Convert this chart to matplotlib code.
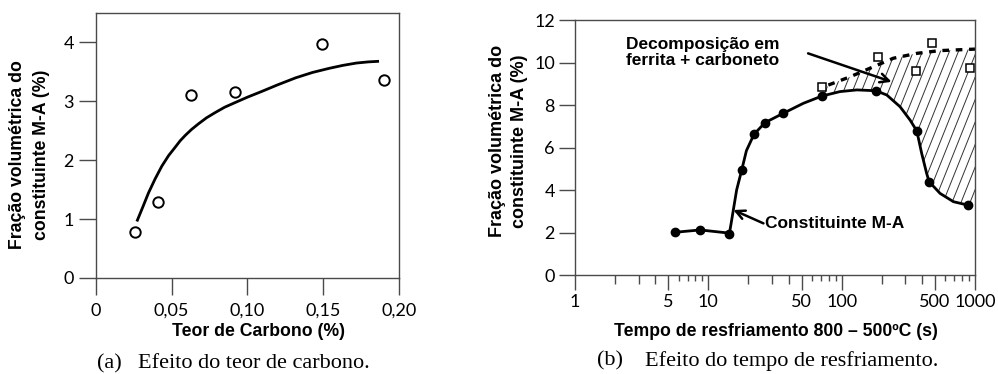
import numpy as np
import matplotlib
matplotlib.use('Agg')
import matplotlib.pyplot as plt
from matplotlib.patches import Polygon

# (a) efeito do teor de carbono
carbono = [0.026, 0.041, 0.063, 0.092, 0.149, 0.190]
frac_c = [0.78, 1.29, 3.11, 3.16, 3.97, 3.37]
# curva ajustada
curva_c_x = [0.027, 0.031, 0.0346, 0.039, 0.0435, 0.048, 0.0523, 0.0556, 0.0589, 0.063,
             0.0678, 0.073, 0.0788, 0.085, 0.092, 0.1, 0.1097, 0.12, 0.132, 0.143,
             0.154, 0.163, 0.172, 0.18, 0.187]
curva_c_y = [0.96, 1.21, 1.44, 1.68, 1.90, 2.08, 2.22, 2.33, 2.42, 2.52,
             2.62, 2.72, 2.81, 2.90, 2.98, 3.07, 3.17, 3.28, 3.40, 3.49,
             3.56, 3.61, 3.65, 3.67, 3.68]
ticks_c = [0, 0.05, 0.10, 0.15, 0.20]
ticklab_c = ['0', '0,05', '0,10', '0,15', '0,20']

# (b) efeito do tempo de resfriamento
tempo = [5.6, 8.7, 14.4, 17.8, 22.0, 26.6, 36.5, 71, 181, 366, 453, 883]
frac_ma = [2.01, 2.12, 1.93, 4.94, 6.62, 7.17, 7.61, 8.42, 8.67, 6.78, 4.39, 3.29]
tempo_q = [71.6, 187, 361, 474, 919]
frac_q = [8.86, 10.24, 9.6, 10.9, 9.76]
curva_t = [5.6, 8.7, 14.4, 14.8, 15.4, 16.3, 17.8, 19.3, 22.0, 26.6, 36.5, 51.6,
           71, 97, 130, 181, 218, 274, 326, 366, 398, 434, 453, 547, 689, 883]
curva_ma = [2.01, 2.12, 1.97, 2.4, 3.06, 4.0, 4.94, 5.85, 6.62, 7.17, 7.61, 8.08,
            8.42, 8.63, 8.71, 8.67, 8.47, 7.92, 7.29, 6.78, 5.73, 4.78, 4.39, 3.84, 3.45, 3.29]
decomp_t = [79.5, 116, 173, 244, 366, 547, 1000]
decomp_y = [8.94, 9.33, 9.8, 10.2, 10.43, 10.56, 10.63]
xt_major = [1, 5, 10, 50, 100, 500, 1000]
xt_mid = [2, 3, 4, 20, 30, 40, 200, 300, 400]
xt_small = [6, 7, 8, 9, 60, 70, 80, 90, 600, 700, 800, 900]

W, H = 998, 374
spine_c = '#4a4a4a'
tickfont = 'Lato'
boldfont = 'Liberation Sans'
serif = 'Liberation Serif'

fig = plt.figure(figsize=(W / 100, H / 100), dpi=100)


def fx(px):
    return px / W


def fy(py):
    return 1 - py / H


def style(ax):
    for s in ax.spines.values():
        s.set_color(spine_c)
        s.set_linewidth(1.0)
    for lab in ax.get_xticklabels() + ax.get_yticklabels():
        lab.set_fontfamily(tickfont)
        lab.set_fontsize(13)


# ---------------- (a)
ax1 = fig.add_axes([fx(96), fy(278), fx(302.7), 265 / H])
ax1.plot(curva_c_x, curva_c_y, color='black', lw=2.0, solid_capstyle='butt',
         solid_joinstyle='round')
ax1.plot(carbono, frac_c, 'o', ms=7.5, mfc='white', mec='black', mew=1.4)
ax1.set_xlim(0, 0.2)
ax1.set_ylim(0, 4.5)
ax1.set_xticks(ticks_c, ticklab_c)
ax1.set_yticks(range(5))
ax1.tick_params(axis='x', direction='out', length=12, width=1.0, color=spine_c, pad=6)
ax1.tick_params(axis='y', direction='out', length=12, width=1.0, color=spine_c, pad=4)
style(ax1)

fig.text(fx(18), fy(155), 'Fração volumétrica do', rotation=90, ha='center', va='center',
         family=boldfont, weight='bold', fontsize=12.7)
fig.text(fx(42), fy(155), 'constituinte M-A (%)', rotation=90, ha='center', va='center',
         family=boldfont, weight='bold', fontsize=12.7)
fig.text(fx(258), fy(331), 'Teor de Carbono (%)', ha='center', va='center',
         family=boldfont, weight='bold', fontsize=12.7)
fig.text(fx(97), fy(364), '(a)', ha='left', va='center', family=serif, fontsize=16)
fig.text(fx(138), fy(364), 'Efeito do teor de carbono.', ha='left', va='center',
         family=serif, fontsize=16)

# ---------------- (b)
ax2 = fig.add_axes([fx(575), fy(275), fx(400), 255 / H])
ax2.set_xscale('log')
ax2.set_xlim(1, 1000)
ax2.set_ylim(0, 12)

# região hachurada entre as duas curvas
low = [(t, y) for t, y in zip(curva_t, curva_ma) if t >= 71]
verts = list(zip(decomp_t, decomp_y)) + [(decomp_t[-1], low[-1][1])] + low[::-1]
poly = Polygon(np.array(verts), closed=True, facecolor='none', edgecolor='none',
               transform=ax2.transData)
ax2.add_patch(poly)
dx = 255 / 2.5 / 400
for x0 in np.arange(-0.3, 1.0, 9 / 400):
    ln, = ax2.plot([x0, x0 + dx], [0, 1], transform=ax2.transAxes,
                   color='#333333', lw=0.7)
    ln.set_clip_path(poly)

ax2.plot(decomp_t, decomp_y, color='black', lw=2.4, dashes=(2.0, 2.0))
ax2.plot(curva_t, curva_ma, color='black', lw=2.0, solid_joinstyle='round')
ax2.plot(tempo, frac_ma, 'o', ms=6, color='black')
ax2.plot(tempo_q, frac_q, 's', ms=6, mfc='white', mec='black', mew=1.1)

ax2.set_xticks(xt_major, [str(v) for v in xt_major])
ax2.set_xticks(xt_mid, minor=True)
ax2.xaxis.set_minor_formatter(matplotlib.ticker.NullFormatter())
ax2.set_yticks(range(0, 13, 2))
ax2.tick_params(axis='x', which='major', direction='out', length=10.5, width=1.0,
                color=spine_c, pad=3)
ax2.tick_params(axis='x', which='minor', direction='out', length=6.5, width=1.0,
                color=spine_c)
ax2.tick_params(axis='y', direction='out', length=11.5, width=1.0, color=spine_c, pad=3)
sec = ax2.secondary_xaxis('bottom')
sec.set_xticks(xt_small)
sec.xaxis.set_major_formatter(matplotlib.ticker.NullFormatter())
sec.xaxis.set_minor_locator(matplotlib.ticker.NullLocator())
sec.tick_params(axis='x', direction='out', length=4.5, width=1.0, color=spine_c)
sec.spines['bottom'].set_visible(False)
style(ax2)

ax2.text(2.4, 10.47, 'Decomposição em\nferrita + carboneto', ha='left', va='center',
         family=boldfont, weight='bold', fontsize=12.5, linespacing=1.15)
ax2.annotate('', xy=(237, 9.09), xytext=(56, 10.43),
             arrowprops=dict(arrowstyle='->', lw=1.8, color='black',
                             mutation_scale=16, shrinkA=0, shrinkB=0))
ax2.text(26.5, 2.43, 'Constituinte M-A', ha='left', va='center',
         family=boldfont, weight='bold', fontsize=12.5)
ax2.annotate('', xy=(15.4, 3.06), xytext=(25.9, 2.43),
             arrowprops=dict(arrowstyle='->', lw=1.8, color='black',
                             mutation_scale=16, shrinkA=0, shrinkB=0))

fig.text(fx(498), fy(141), 'Fração volumétrica do', rotation=90, ha='center', va='center',
         family=boldfont, weight='bold', fontsize=13)
fig.text(fx(520), fy(141), 'constituinte M-A (%)', rotation=90, ha='center', va='center',
         family=boldfont, weight='bold', fontsize=13)
fig.text(fx(776), fy(331), 'Tempo de resfriamento 800 – 500ºC (s)', ha='center', va='center',
         family=boldfont, weight='bold', fontsize=12.7)
fig.text(fx(597), fy(361), '(b)', ha='left', va='center', family=serif, fontsize=16)
fig.text(fx(645), fy(361), 'Efeito do tempo de resfriamento.', ha='left', va='center',
         family=serif, fontsize=16)

fig.savefig('out.png', dpi=100)
